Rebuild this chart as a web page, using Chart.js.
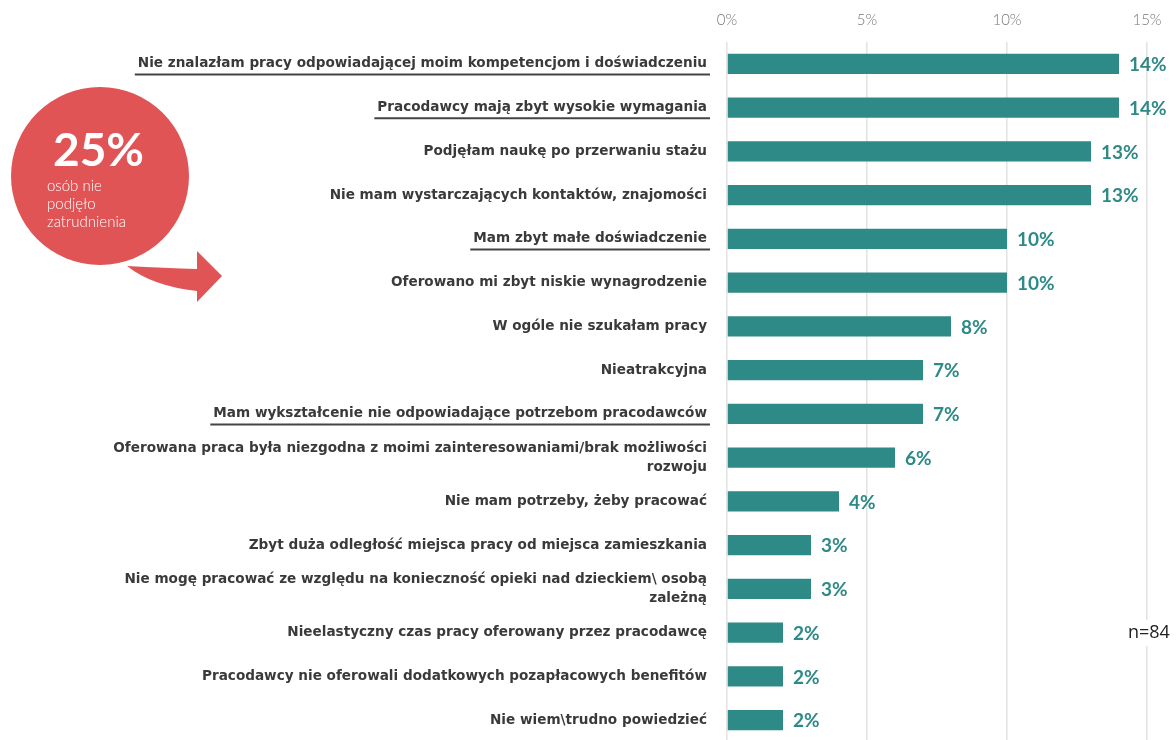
<!DOCTYPE html>
<html>
<head>
<meta charset="utf-8">
<script src="https://cdn.jsdelivr.net/npm/chart.js@4.4.1/dist/chart.umd.min.js"></script>
<style>
  html, body { margin: 0; padding: 0; background: #fff; overflow: hidden; }
  #wrap { position: relative; width: 1176px; height: 742px; }
</style>
</head>
<body>
<div id="wrap"><canvas id="c"></canvas></div>
<script>
const categories = [
  "Nie znalazłam pracy odpowiadającej moim kompetencjom i doświadczeniu",
  "Pracodawcy mają zbyt wysokie wymagania",
  "Podjęłam naukę po przerwaniu stażu",
  "Nie mam wystarczających kontaktów, znajomości",
  "Mam zbyt małe doświadczenie",
  "Oferowano mi zbyt niskie wynagrodzenie",
  "W ogóle nie szukałam pracy",
  "Nieatrakcyjna",
  "Mam wykształcenie nie odpowiadające potrzebom pracodawców",
  ["Oferowana praca była niezgodna z moimi zainteresowaniami/brak możliwości", "rozwoju"],
  "Nie mam potrzeby, żeby pracować",
  "Zbyt duża odległość miejsca pracy od miejsca zamieszkania",
  ["Nie mogę pracować ze względu na konieczność opieki nad dzieckiem\\ osobą", "zależną"],
  "Nieelastyczny czas pracy oferowany przez pracodawcę",
  "Pracodawcy nie oferowali dodatkowych pozapłacowych benefitów",
  "Nie wiem\\trudno powiedzieć"
];
const values = [14, 14, 13, 13, 10, 10, 8, 7, 7, 6, 4, 3, 3, 2, 2, 2];
const underlinedIdx = [0, 1, 4, 8];
const xTicks = [0, 5, 10, 15];
const calloutValue = "25%";
const calloutLines = ["osób nie", "podjęło", "zatrudnienia"];
const sampleNote = "n=84";

const TEAL = "#2e8a86";
const RED = "#e05455";
const LABEL_FONT = { family: "DejaVu Sans", size: 13.6, weight: "bold", lineHeight: 1.42 };

const valueLabels = {
  id: "valueLabels",
  afterDatasetsDraw(chart) {
    const ctx = chart.ctx;
    const meta = chart.getDatasetMeta(0);
    ctx.save();
    ctx.fillStyle = TEAL;
    ctx.font = "bold 19px Lato";
    ctx.textAlign = "left";
    ctx.textBaseline = "middle";
    meta.data.forEach((bar, i) => {
      ctx.fillText(values[i] + "%", bar.x + 10, bar.y + 1);
    });
    ctx.restore();
  }
};

const underlines = {
  id: "underlines",
  afterDraw(chart) {
    const ctx = chart.ctx;
    const y = chart.scales.y;
    const right = y.right - 17;
    ctx.save();
    ctx.font = `${LABEL_FONT.weight} ${LABEL_FONT.size}px ${LABEL_FONT.family}`;
    ctx.strokeStyle = "#444";
    ctx.lineWidth = 2;
    underlinedIdx.forEach(i => {
      const py = y.getPixelForTick(i);
      const txt = Array.isArray(categories[i]) ? categories[i][0] : categories[i];
      const w = ctx.measureText(txt).width;
      ctx.beginPath();
      ctx.moveTo(right - 3 - w - 3, py + 10.5);
      ctx.lineTo(right, py + 10.5);
      ctx.stroke();
    });
    ctx.restore();
  }
};

const callout = {
  id: "callout",
  afterDraw(chart) {
    const ctx = chart.ctx;
    ctx.save();
    ctx.fillStyle = RED;
    ctx.beginPath();
    ctx.moveTo(127, 266);
    ctx.quadraticCurveTo(165, 268, 197, 269);
    ctx.lineTo(197, 251);
    ctx.lineTo(222, 276);
    ctx.lineTo(197, 302);
    ctx.lineTo(197, 291);
    ctx.quadraticCurveTo(152, 286, 127, 266);
    ctx.closePath();
    ctx.fill();
    ctx.beginPath();
    ctx.arc(100, 176, 89, 0, Math.PI * 2);
    ctx.fill();
    ctx.fillStyle = "#fff";
    ctx.textAlign = "left";
    ctx.textBaseline = "alphabetic";
    ctx.font = "bold 46px Lato";
    ctx.fillText(calloutValue, 53, 166);
    ctx.font = "300 15px Lato";
    calloutLines.forEach((t, k) => ctx.fillText(t, 47, 191 + k * 18));
    ctx.font = "18px 'Open Sans'";
    const w = ctx.measureText(sampleNote).width;
    ctx.fillStyle = "#fff";
    ctx.fillRect(1125, 620, w + 6, 26);
    ctx.fillStyle = "#222";
    ctx.textBaseline = "middle";
    ctx.fillText(sampleNote, 1128, 633);
    ctx.restore();
  }
};

new Chart(document.getElementById("c"), {
  type: "bar",
  data: {
    labels: categories,
    datasets: [{
      data: values,
      backgroundColor: TEAL,
      borderWidth: 0,
      barPercentage: 0.46,
      categoryPercentage: 1
    }]
  },
  options: {
    indexAxis: "y",
    responsive: true,
    maintainAspectRatio: false,
    animation: false,
    layout: { padding: { left: 0, right: 29, top: 0, bottom: 0 } },
    plugins: { legend: { display: false }, tooltip: { enabled: false } },
    scales: {
      x: {
        position: "top",
        min: 0,
        max: 15,
        afterBuildTicks: (s) => { s.ticks = xTicks.map(v => ({ value: v })); },
        afterFit: (s) => { s.height = 42; },
        ticks: {
          padding: 13,
          color: "#777",
          font: { family: "Lato", size: 15, weight: "300" },
          callback: (v) => v + "%"
        },
        grid: { color: "#e2e2e2", lineWidth: 1.5, drawTicks: false },
        border: { display: false }
      },
      y: {
        afterFit: (s) => { s.width = 727; s.paddingTop = 0; s.paddingBottom = 0; },
        ticks: {
          padding: 20,
          color: "#3a3a3a",
          font: LABEL_FONT
        },
        grid: { display: false, drawTicks: false },
        border: { display: false }
      }
    }
  },
  plugins: [valueLabels, underlines, callout]
});
</script>
</body>
</html>
